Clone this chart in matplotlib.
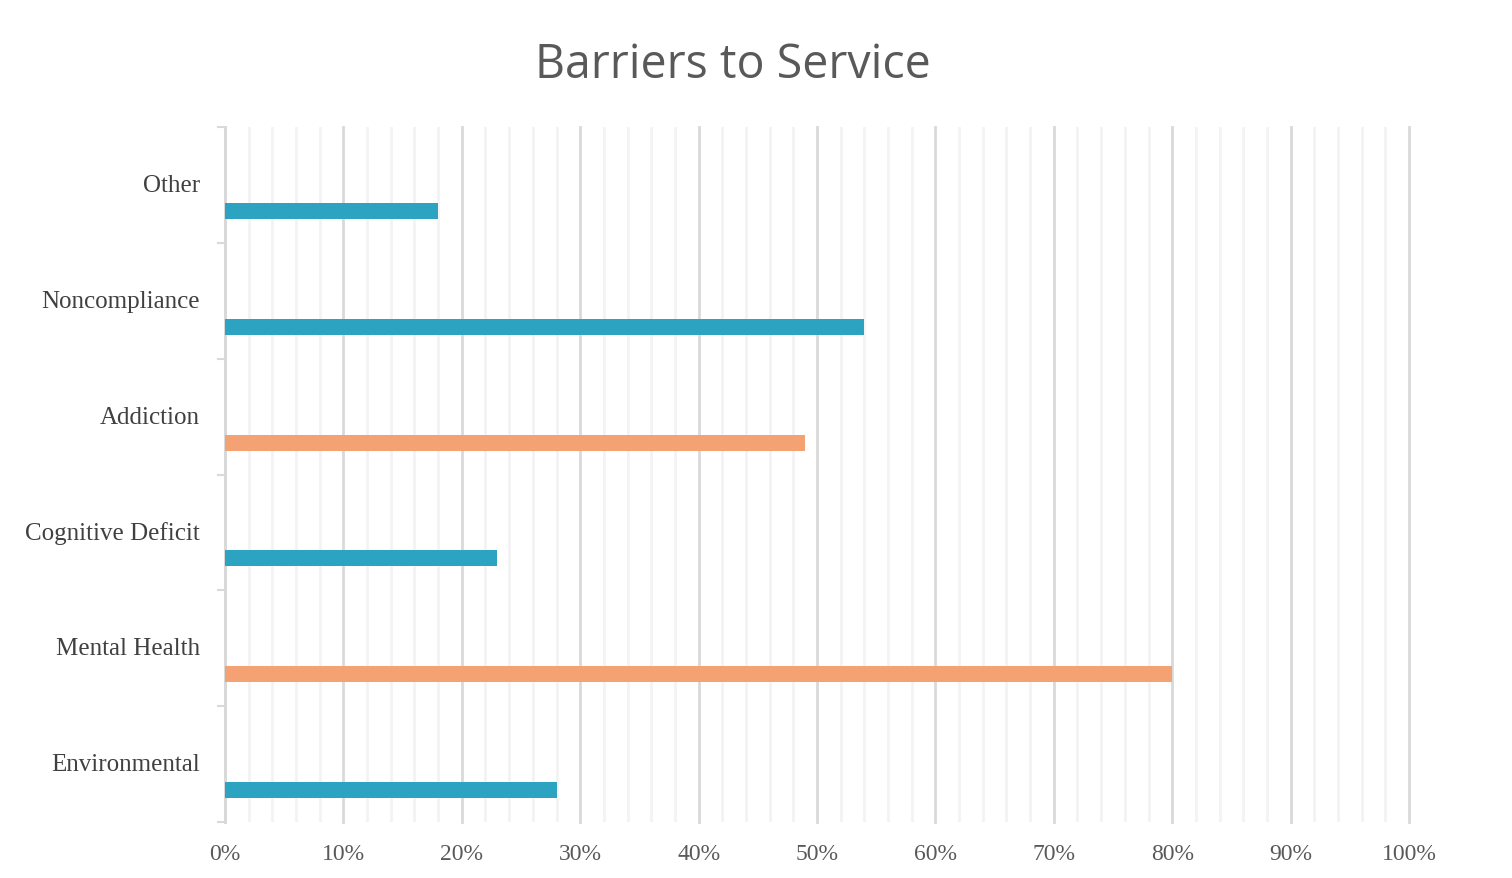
import matplotlib.pyplot as plt
import numpy as np

plt.rcParams['font.family'] = 'serif'
plt.rcParams['font.serif'] = ['Liberation Serif', 'DejaVu Serif']

# Categories bottom to top
categories = ["Environmental", "Mental Health", "Cognitive Deficit",
              "Addiction", "Noncompliance", "Other"]
values = [28, 80, 23, 49, 54, 18]
bar_colors = ["#2CA3C0", "#F4A273", "#2CA3C0", "#F4A273", "#2CA3C0", "#2CA3C0"]
x_ticks = np.arange(0, 101, 10)
x_tick_labels = [f"{v}%" for v in x_ticks]

fig = plt.figure(figsize=(15.12, 8.79), dpi=100)
ax = fig.add_axes([225 / 1512, 1 - 823 / 879, (1409 - 225) / 1512, (823 - 128) / 879])

y_pos = np.arange(len(categories))
ax.barh(y_pos - 0.225, values, height=0.138, color=bar_colors, zorder=3)

ax.set_xlim(0, 100)
ax.set_ylim(-0.5, len(categories) - 0.5)

# Gridlines: major every 10%, minor every 2%
ax.set_xticks(x_ticks)
ax.set_xticks(np.arange(0, 101, 2), minor=True)
ax.grid(axis='x', which='minor', color='#F3F3F3', linewidth=2, zorder=0)
ax.grid(axis='x', which='major', color='#D9D9D9', linewidth=2, zorder=1)
for gl in ax.get_xgridlines():
    gl.set_clip_on(False)
ax.set_xticklabels(x_tick_labels, fontsize=17, color='#595959')
ax.tick_params(axis='x', which='both', length=0, pad=15)

# Category labels sit a little above the band centre, bars below it
ax.set_yticks(y_pos + 0.02)
ax.set_yticklabels(categories, fontsize=18, color='#404040')
ax.set_yticks(np.arange(-0.5, len(categories), 1), minor=True)
ax.tick_params(axis='y', which='major', length=0, pad=18)
ax.tick_params(axis='y', which='minor', length=6, width=1.5, color='#D9D9D9')

for s in ['top', 'right', 'bottom']:
    ax.spines[s].set_visible(False)
ax.spines['left'].set_color('#D9D9D9')
ax.spines['left'].set_linewidth(2)

fig.text(733 / 1512, 1 - 65 / 879, "Barriers to Service", fontsize=33.5,
         color='#595959', ha='center', va='center', family='Open Sans')

plt.savefig('out.png', dpi=100)
